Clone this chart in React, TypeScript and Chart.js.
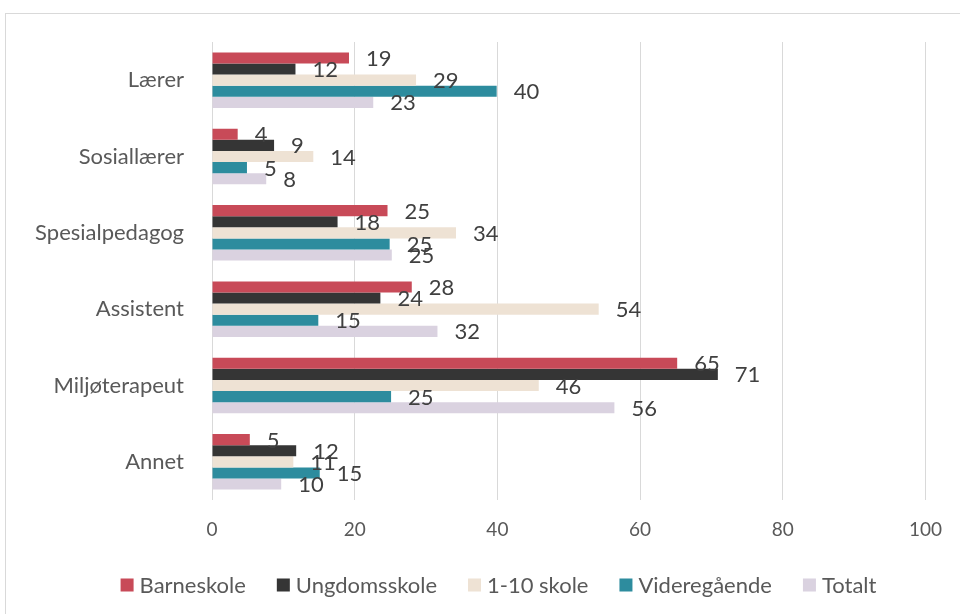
import React, { useEffect, useRef } from "react";
import { Chart, registerables } from "chart.js";

Chart.register(...registerables);

const categories = ["Lærer", "Sosiallærer", "Spesialpedagog", "Assistent", "Miljøterapeut", "Annet"];
const seriesNames = ["Barneskole", "Ungdomsskole", "1-10 skole", "Videregående", "Totalt"];
const barneskole = [19.2, 3.6, 24.6, 28.0, 65.2, 5.3];
const ungdomsskole = [11.7, 8.7, 17.6, 23.6, 70.9, 11.8];
const skole110 = [28.6, 14.2, 34.2, 54.2, 45.8, 11.4];
const videregaende = [39.9, 4.9, 24.9, 14.9, 25.1, 15.1];
const totalt = [22.6, 7.6, 25.2, 31.6, 56.4, 9.7];
const xTicks = [0, 20, 40, 60, 80, 100];
const seriesColors = ["#C84A58", "#353535", "#EEE2D4", "#2D8C9E", "#DAD2E0"];

const FONT = "Lato, 'Open Sans', sans-serif";

const framePlugin = {
  id: "frame",
  beforeDraw(chart: any) {
    const ctx = chart.ctx;
    ctx.save();
    ctx.fillStyle = "#ffffff";
    ctx.fillRect(0, 0, chart.width, chart.height);
    ctx.strokeStyle = "#D9D9D9";
    ctx.lineWidth = 1;
    ctx.strokeRect(5.5, 13.5, 3000, 3000);
    ctx.restore();
  },
};

const dataLabelPlugin = {
  id: "dataLabels",
  afterDatasetsDraw(chart: any) {
    const ctx = chart.ctx;
    ctx.save();
    ctx.font = `22px ${FONT}`;
    ctx.fillStyle = "#404040";
    ctx.textAlign = "left";
    ctx.textBaseline = "middle";
    chart.data.datasets.forEach((ds: any, i: number) => {
      const meta = chart.getDatasetMeta(i);
      meta.data.forEach((el: any, j: number) => {
        ctx.fillText(String(Math.round(ds.data[j])), el.x + 17, el.y + 1);
      });
    });
    ctx.restore();
  },
};

const legendPlugin = {
  id: "customLegend",
  afterDraw(chart: any) {
    const ctx = chart.ctx;
    ctx.save();
    ctx.font = `22px ${FONT}`;
    ctx.textBaseline = "middle";
    ctx.textAlign = "left";
    const box = 13;
    const boxGap = 6;
    const itemGap = 31;
    const items = chart.data.datasets.map((ds: any) => ({
      label: ds.label,
      color: ds.backgroundColor,
      w: ctx.measureText(ds.label).width,
    }));
    const total =
      items.reduce((s: number, it: any) => s + box + boxGap + it.w, 0) + itemGap * (items.length - 1);
    let x = 498.5 - total / 2;
    const cy = 585;
    items.forEach((it: any) => {
      ctx.fillStyle = it.color;
      ctx.fillRect(x, cy - box / 2, box, box);
      ctx.fillStyle = "#595959";
      ctx.fillText(it.label, x + box + boxGap, cy + 1);
      x += box + boxGap + it.w + itemGap;
    });
    ctx.restore();
  },
};

export default function App() {
  const canvasRef = useRef<HTMLCanvasElement | null>(null);

  useEffect(() => {
    if (!canvasRef.current) return;
    const seriesData = [barneskole, ungdomsskole, skole110, videregaende, totalt];
    const chart = new Chart(canvasRef.current, {
      type: "bar",
      data: {
        labels: categories,
        datasets: seriesNames.map((name, i) => ({
          label: name,
          data: seriesData[i],
          backgroundColor: seriesColors[i],
          borderWidth: 0,
          categoryPercentage: 0.727,
          barPercentage: 1,
        })),
      },
      options: {
        indexAxis: "y",
        responsive: false,
        animation: false,
        layout: { padding: { top: 42, right: 33, left: 0, bottom: 0 } },
        plugins: {
          legend: { display: false },
          tooltip: { enabled: false },
        },
        scales: {
          x: {
            min: 0,
            max: 100,
            afterBuildTicks: (s: any) => {
              s.ticks = xTicks.map((v) => ({ value: v }));
            },
            afterFit: (s: any) => {
              s.height = 114;
            },
            grid: { color: "#D9D9D9", lineWidth: 1, drawTicks: false },
            border: { display: false },
            ticks: {
              padding: 18,
              color: "#595959",
              font: { family: FONT, size: 19 },
              maxRotation: 0,
            },
          },
          y: {
            afterFit: (s: any) => {
              s.width = 212;
            },
            grid: { display: false, drawTicks: false },
            border: { display: false },
            ticks: {
              padding: 28,
              color: "#595959",
              font: { family: FONT, size: 22 },
            },
          },
        },
      },
      plugins: [framePlugin, dataLabelPlugin, legendPlugin],
    });
    return () => chart.destroy();
  }, []);

  return (
    <div style={{ position: "fixed", left: 0, top: 0, width: 960, height: 614, background: "#fff" }}>
      <canvas ref={canvasRef} width={960} height={614} />
    </div>
  );
}
